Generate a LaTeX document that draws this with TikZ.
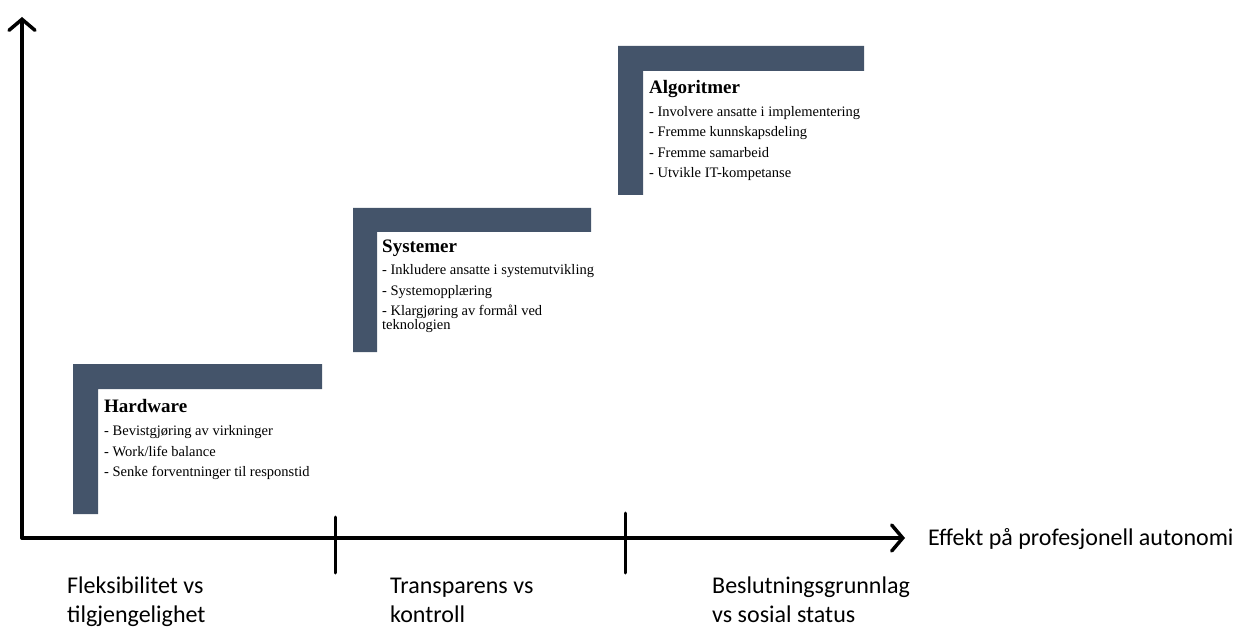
\documentclass[tikz,border=0pt]{standalone}
\usepackage{fontspec}
\setmainfont{Liberation Serif}
\newfontfamily\calib{Carlito}
\usetikzlibrary{arrows.meta}
\definecolor{slate}{HTML}{44546A}
\tikzset{
  lbar/.style={fill=slate, draw=none},
  axisline/.style={line width=3.5pt, line cap=round, line join=round},
  axistip/.style={-{Straight Barb[length=11pt,width=26pt,line width=3.5pt,line cap=round]}},
  tickline/.style={line width=3pt, line cap=round},
  ttl/.style={anchor=base west, inner sep=0pt, font=\fontsize{19}{22}\selectfont\bfseries},
  itm/.style={anchor=base west, inner sep=0pt, font=\fontsize{14.5}{16}\selectfont},
  lab/.style={anchor=base west, inner sep=0pt, font=\calib\fontsize{24}{28.5}\selectfont, align=left},
}
\begin{document}
\begin{tikzpicture}[x=1pt,y=-1pt]
\useasboundingbox (0,0) rectangle (1237,628);
% L-shaped bars
\fill[lbar] (73,364) -- (322,364) -- (322,389) -- (98,389) -- (98,514) -- (73,514) -- cycle;
\fill[lbar] (353,208) -- (591,208) -- (591,232) -- (377,232) -- (377,352) -- (353,352) -- cycle;
\fill[lbar] (618,46) -- (864,46) -- (864,71) -- (643,71) -- (643,195) -- (618,195) -- cycle;
% axes
\coordinate (o) at (22,538);
\coordinate (ytop) at (22,17);
\coordinate (xend) at (905,538);
\draw[axisline, axistip] (o) -- (ytop);
\draw[axisline, axistip] (o) -- (xend);
% ticks
\coordinate (t1a) at (335,517); \coordinate (t1b) at (335,573);
\coordinate (t2a) at (625,513); \coordinate (t2b) at (625,573);
\draw[tickline] (t1a) -- (t1b);
\draw[tickline] (t2a) -- (t2b);
% box texts
\node[ttl] (h0) at (104,412) {Hardware};
\node[itm] (h1) at (104,435) {- Bevistgjøring av virkninger};
\node[itm] (h2) at (104,456) {- Work/life balance};
\node[itm] (h3) at (104,476) {- Senke forventninger til responstid};
\node[ttl] (s0) at (382,253) {Systemer};
\node[itm] (s1) at (382,275) {- Inkludere ansatte i systemutvikling};
\node[itm] (s2) at (382,296) {- Systemopplæring};
\node[itm] (s3) at (382,316) {- Klargjøring av formål ved};
\node[itm] (s4) at (382,330) {teknologien};
\node[ttl] (a0) at (649,94) {Algoritmer};
\node[itm] (a1) at (649,117) {- Involvere ansatte i implementering};
\node[itm] (a2) at (649,137) {- Fremme kunnskapsdeling};
\node[itm] (a3) at (649,158) {- Fremme samarbeid};
\node[itm] (a4) at (649,178) {- Utvikle IT-kompetanse};
% axis labels
\node[lab] (xl) at (928,545) {Effekt på profesjonell autonomi};
\node[lab] (b1) at (67,622) {Fleksibilitet vs\\tilgjengelighet};
\node[lab] (b2) at (390,622) {Transparens vs\\kontroll};
\node[lab] (b3) at (712,622) {Beslutningsgrunnlag\\vs sosial status};
\end{tikzpicture}
\end{document}
